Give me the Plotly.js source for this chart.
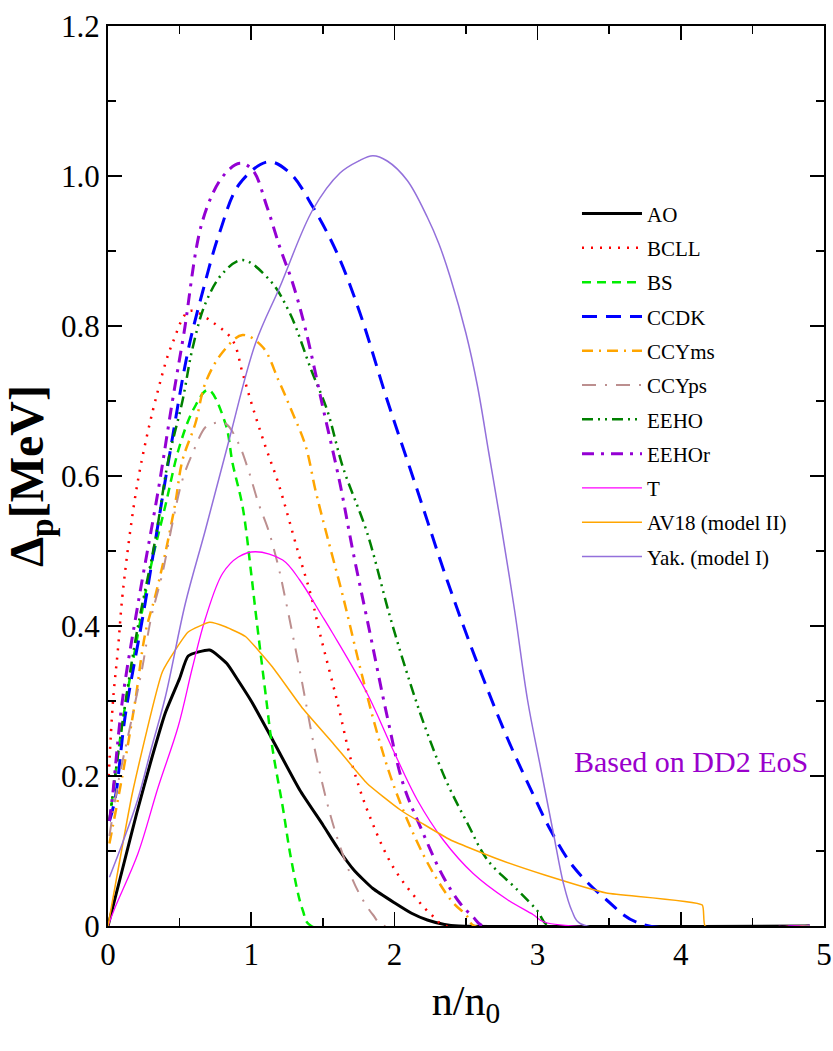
<!DOCTYPE html>
<html>
<head>
<meta charset="utf-8">
<script src="https://cdn.plot.ly/plotly-3.0.1.min.js"></script>
<style>html,body{margin:0;padding:0;background:#fff;}#chart{width:833px;height:1051px;}</style>
</head>
<body>
<div id="chart"></div>
<script>
// ---- data (x = n/n0, y = Delta_p [MeV]) ----
const seriesNames = ["AO","BCLL","BS","CCDK","CCYms","CCYps","EEHO","EEHOr","T","AV18 (model II)","Yak. (model I)"];

const aoX = [0,0.1,0.2,0.3,0.4,0.5,0.56,0.71,0.83,0.9,1.0,1.15,1.34,1.5,1.6,1.72,1.85,2.0,2.12,2.23,2.35,2.45,4.9];
const aoY = [0,0.075,0.15,0.22,0.284,0.33,0.36,0.368,0.35,0.33,0.30,0.248,0.181,0.135,0.105,0.074,0.05,0.031,0.017,0.008,0.002,0,0];

const bcllX = [0.005,0.035,0.07,0.105,0.21,0.35,0.45,0.57,0.73,0.87,0.94,1.01,1.10,1.19,1.33,1.42,1.48,1.60,1.71,1.83,1.99,2.16,2.27,2.36,4.9];
const bcllY = [0.2,0.3,0.37,0.448,0.595,0.715,0.777,0.82,0.805,0.781,0.737,0.692,0.639,0.59,0.497,0.439,0.39,0.30,0.212,0.145,0.079,0.035,0.013,0,0];

const bsX = [0.01,0.1,0.2,0.3,0.4,0.5,0.6,0.7,0.82,0.87,0.94,1.0,1.03,1.10,1.15,1.22,1.28,1.36,1.42,4.9];
const bsY = [0.14,0.27,0.38,0.48,0.56,0.64,0.69,0.715,0.67,0.617,0.559,0.47,0.42,0.31,0.235,0.159,0.088,0.021,0,0];

const ccdkX = [0.01,0.05,0.12,0.25,0.42,0.56,0.66,0.78,0.92,1.12,1.27,1.43,1.6,1.76,1.95,2.16,2.37,2.58,2.79,2.97,3.09,3.25,3.48,3.72,4.9];
const ccdkY = [0.14,0.17,0.28,0.42,0.617,0.768,0.845,0.925,0.99,1.019,1.004,0.959,0.897,0.817,0.701,0.581,0.46,0.35,0.25,0.175,0.128,0.079,0.035,0.003,0];

const ccymsX = [0.01,0.1,0.19,0.26,0.33,0.4,0.47,0.52,0.61,0.68,0.8,0.94,1.08,1.19,1.28,1.38,1.45,1.53,1.64,1.76,1.88,1.99,2.13,2.27,2.41,2.5,2.56,4.9];
const ccymsY = [0.11,0.2,0.3,0.39,0.44,0.497,0.564,0.621,0.67,0.724,0.765,0.788,0.772,0.728,0.688,0.64,0.58,0.52,0.44,0.345,0.257,0.19,0.124,0.071,0.031,0.015,0,0];

const ccypsX = [0.01,0.07,0.17,0.24,0.3,0.38,0.45,0.52,0.59,0.68,0.73,0.82,0.91,0.98,1.05,1.12,1.19,1.24,1.35,1.45,1.55,1.65,1.75,1.85,1.93,4.9];
const ccypsY = [0.12,0.19,0.28,0.345,0.41,0.47,0.537,0.595,0.63,0.665,0.67,0.67,0.644,0.608,0.564,0.528,0.479,0.435,0.33,0.23,0.15,0.09,0.045,0.015,0,0];

const eehoX = [0.01,0.1,0.2,0.33,0.42,0.52,0.59,0.68,0.8,0.94,1.13,1.27,1.42,1.53,1.64,1.81,1.97,2.11,2.23,2.37,2.51,2.65,2.86,3.0,3.08,4.9];
const eehoY = [0.14,0.27,0.39,0.515,0.62,0.7,0.77,0.83,0.87,0.888,0.861,0.817,0.741,0.688,0.612,0.524,0.412,0.324,0.257,0.19,0.137,0.088,0.048,0.02,0,0];

const eehorX = [0.01,0.03,0.1,0.21,0.35,0.45,0.53,0.66,0.8,0.92,1.01,1.11,1.2,1.29,1.38,1.5,1.62,1.71,1.83,1.95,2.06,2.2,2.34,2.46,2.55,2.62,4.9];
const eehorY = [0.14,0.17,0.3,0.43,0.58,0.7,0.79,0.94,0.999,1.017,1.008,0.959,0.905,0.857,0.795,0.692,0.59,0.5,0.39,0.279,0.19,0.124,0.066,0.03,0.012,0,0];

const tX = [0,0.05,0.21,0.35,0.49,0.59,0.68,0.8,0.91,1.03,1.22,1.34,1.49,1.57,1.81,1.99,2.16,2.34,2.55,2.79,2.97,3.05,4.9];
const tY = [0,0.025,0.097,0.185,0.266,0.345,0.41,0.47,0.492,0.499,0.488,0.461,0.415,0.39,0.31,0.235,0.168,0.115,0.07,0.035,0.015,0.005,0];

const av18X = [0,0.17,0.38,0.56,0.71,0.82,0.96,1.15,1.36,1.57,1.81,2.04,2.39,2.74,3.05,3.48,4.15,4.17,4.9];
const av18Y = [0,0.177,0.339,0.392,0.405,0.399,0.386,0.345,0.29,0.244,0.19,0.155,0.115,0.088,0.068,0.044,0.028,0,0];

const yakX = [0.01,0.1,0.21,0.3,0.4,0.54,0.68,0.84,1.03,1.2,1.43,1.62,1.75,1.85,1.95,2.09,2.23,2.31,2.39,2.5,2.58,2.66,2.74,2.84,2.93,3.02,3.11,3.18,3.24,3.30,4.9];
const yakY = [0.065,0.11,0.17,0.235,0.305,0.43,0.528,0.644,0.777,0.852,0.955,1.004,1.02,1.027,1.02,0.994,0.945,0.91,0.865,0.79,0.72,0.63,0.54,0.42,0.301,0.212,0.124,0.057,0.02,0.003,0];

const xTickVals = [0,1,2,3,4,5];
const xTickText = ["0","1","2","3","4","5"];
const yTickVals = [0,0.2,0.4,0.6,0.8,1.0,1.2];
const yTickText = ["0","0.2","0.4","0.6","0.8","1.0","1.2"];

// ---- styles ----
const styles = [
  {color:"#000000", width:3,   dash:"solid", shape:"spline", sm:0.5},
  {color:"#FF0000", width:2.5, dash:"2px,7px", shape:"spline", sm:1},
  {color:"#00EE00", width:2.5, dash:"9px,6px", shape:"spline", sm:1},
  {color:"#0000FF", width:3,   dash:"15px,9px", shape:"spline", sm:1},
  {color:"#FFA500", width:2.5, dash:"11px,6px,2px,6px", shape:"spline", sm:1},
  {color:"#BC8F8F", width:2,   dash:"14px,9px,2px,9px", shape:"spline", sm:1},
  {color:"#008000", width:2.5, dash:"11px,5px,2px,5px,2px,5px", shape:"spline", sm:1},
  {color:"#9400D3", width:3,   dash:"12px,7px,3px,7px", shape:"spline", sm:1},
  {color:"#FF00FF", width:1.3, dash:"solid", shape:"spline", sm:1},
  {color:"#FFA500", width:1.5, dash:"solid", shape:"spline", sm:0.4},
  {color:"#9370DB", width:1.5, dash:"solid", shape:"spline", sm:1}
];
const xs = [aoX,bcllX,bsX,ccdkX,ccymsX,ccypsX,eehoX,eehorX,tX,av18X,yakX];
const ys = [aoY,bcllY,bsY,ccdkY,ccymsY,ccypsY,eehoY,eehorY,tY,av18Y,yakY];

const traces = seriesNames.map((n,i)=>({
  type:"scatter", mode:"lines", name:n, legendgroup:n, x:xs[i], y:ys[i],
  line:{color:styles[i].color, width:styles[i].width, dash:styles[i].dash, shape:styles[i].shape, smoothing:styles[i].sm}
}));

const serif = "Liberation Serif, Times New Roman, serif";
const layout = {
  width:833, height:1051,
  margin:{l:108, r:9, t:26, b:125},
  paper_bgcolor:"#fff", plot_bgcolor:"#fff",
  showlegend:true,
  legend:{x:0.655, y:0.814, xanchor:"left", yanchor:"top", bgcolor:"rgba(0,0,0,0)",
          font:{family:serif, size:21, color:"#000"}, tracegroupgap:4, itemwidth:60},
  xaxis:{range:[0,5], showgrid:false, zeroline:false, showline:true, linecolor:"#000", linewidth:2,
         mirror:"allticks", ticks:"inside", ticklen:14, tickwidth:1.5, tickcolor:"#000",
         tickvals:xTickVals, ticktext:xTickText,
         minor:{tickvals:[0.5,1.5,2.5,3.5,4.5], ticks:"inside", ticklen:8, tickwidth:1.5, tickcolor:"#000", showgrid:false},
         tickfont:{family:serif, size:31, color:"#000"},
         title:{text:"n/n<sub>0</sub>", font:{family:serif, size:42, color:"#000"}, standoff:14}},
  yaxis:{range:[0,1.2], showgrid:false, zeroline:false, showline:true, linecolor:"#000", linewidth:2,
         mirror:"allticks", ticks:"inside", ticklen:14, tickwidth:1.5, tickcolor:"#000",
         tickvals:yTickVals, ticktext:yTickText,
         minor:{tickvals:[0.1,0.3,0.5,0.7,0.9,1.1], ticks:"inside", ticklen:8, tickwidth:1.5, tickcolor:"#000", showgrid:false},
         tickfont:{family:serif, size:31, color:"#000"},
         title:{text:"<b>Δ<sub>p</sub>[MeV]</b>", font:{family:serif, size:48, color:"#000"}, standoff:6}},
  annotations:[{x:4.07, y:0.219, xref:"x", yref:"y", text:"Based on DD2 EoS", showarrow:false,
                font:{family:serif, size:30, color:"#9A00CC"}}]
};
Plotly.newPlot("chart", traces, layout, {displayModeBar:false, staticPlot:true});
</script>
</body>
</html>
